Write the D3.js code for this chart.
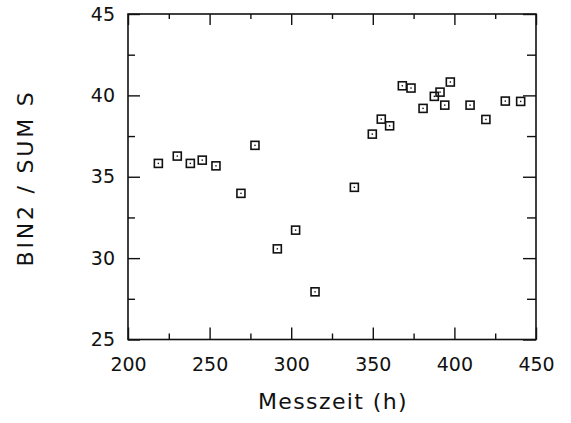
<!DOCTYPE html>
<html><head><meta charset="utf-8">
<script src="https://cdn.jsdelivr.net/npm/d3@7"></script>
<style>body{margin:0;background:#fff}text{font-family:"DejaVu Sans",sans-serif;fill:#111}</style>
</head><body><svg id="c" width="571" height="423"></svg>
<script>
const messzeit = [218.6,230.2,238.2,245.5,253.9,269.2,277.8,291.5,302.7,314.6,338.7,349.7,355.2,360.3,368.1,373.4,380.8,387.7,391.2,394.1,397.5,409.6,419.3,431.2,440.6];
const ratio    = [35.82,36.27,35.82,36.02,35.67,33.98,36.93,30.57,31.72,27.93,34.35,37.62,38.54,38.13,40.59,40.45,39.2,39.94,40.2,39.4,40.82,39.4,38.52,39.65,39.63];
const xTicks = [200,250,300,350,400,450];
const yTicks = [25,30,35,40,45];
const xMinor = [225,275,325,375,425];
const yMinor = [27.5,32.5,37.5,42.5];

const svg = d3.select("#c");
const L=128,R=536,T=14,B=339.5;
const x = d3.scaleLinear().domain([200,450]).range([L,R]);
const y = d3.scaleLinear().domain([25,45]).range([B,T]);
const ink="#111";

svg.append("rect").attr("x",L).attr("y",T).attr("width",R-L).attr("height",B-T)
  .attr("fill","none").attr("stroke",ink).attr("stroke-width",1.6);

function tickAxis(axisFn, scale, vals, len, tr){
  const g = svg.append("g").attr("transform",tr)
    .call(axisFn(scale).tickValues(vals).tickSize(len).tickFormat(""));
  g.select(".domain").remove();
  g.selectAll(".tick line").attr("stroke",ink).attr("stroke-width",1.4);
}
tickAxis(d3.axisTop, x, xTicks, 12, `translate(0,${B})`);
tickAxis(d3.axisTop, x, xMinor, 6, `translate(0,${B})`);
tickAxis(d3.axisBottom, x, xTicks, 11, `translate(0,${T})`);
tickAxis(d3.axisBottom, x, xMinor, 5, `translate(0,${T})`);
tickAxis(d3.axisRight, y, yTicks, 12, `translate(${L},0)`);
tickAxis(d3.axisRight, y, yMinor, 7, `translate(${L},0)`);
tickAxis(d3.axisLeft, y, yTicks, 13, `translate(${R},0)`);
tickAxis(d3.axisLeft, y, yMinor, 9, `translate(${R},0)`);

const gx = svg.append("g").attr("transform",`translate(0,${B})`)
  .call(d3.axisBottom(x).tickValues(xTicks).tickSize(0).tickFormat(d3.format("d")));
gx.select(".domain").remove();
gx.selectAll("text").style("font-size","19px").attr("fill",ink).attr("y",31.5).attr("dy","0");
const gy = svg.append("g").attr("transform",`translate(${L},0)`)
  .call(d3.axisLeft(y).tickValues(yTicks).tickSize(0).tickPadding(13).tickFormat(d3.format("d")));
gy.select(".domain").remove();
gy.selectAll("text").style("font-size","19px").attr("fill",ink);

svg.append("text").attr("x",333).attr("y",409).attr("text-anchor","middle")
  .style("font-size","22px").style("letter-spacing","1.4px").text("Messzeit (h)");
svg.append("text").attr("transform","translate(33,178) rotate(-90)").attr("text-anchor","middle")
  .style("font-size","22px").style("letter-spacing","2.8px").text("BIN2 / SUM S");

const data = messzeit.map((d,i)=>({x:d,y:ratio[i]}));
const pts = svg.append("g").selectAll("g").data(data).join("g")
  .attr("transform",d=>`translate(${x(d.x)},${y(d.y)})`);
pts.append("rect").attr("x",-4).attr("y",-4).attr("width",8).attr("height",8)
  .attr("fill","none").attr("stroke",ink).attr("stroke-width",1.6);
pts.append("rect").attr("x",-0.7).attr("y",-0.7).attr("width",1.4).attr("height",1.4).attr("fill",ink);
</script></body></html>
